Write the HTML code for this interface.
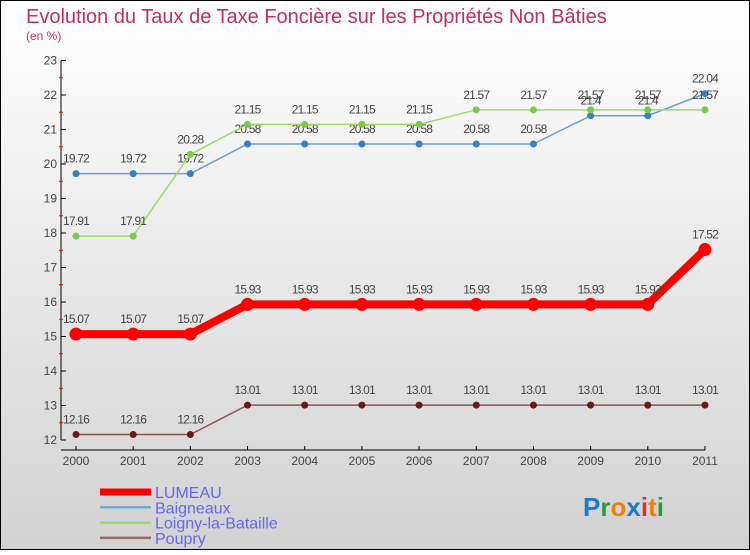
<!DOCTYPE html>
<html><head><meta charset="utf-8"><style>
body{margin:0}
#c{width:750px;height:550px;position:relative;font-family:"Liberation Sans",sans-serif}
</style></head><body>
<div id="c">
<svg id="s" width="750" height="550" xmlns="http://www.w3.org/2000/svg">
<defs><linearGradient id="bg" x1="0" y1="0" x2="0" y2="1"><stop offset="0" stop-color="#ffffff"/><stop offset="1" stop-color="#d2d2d2"/></linearGradient></defs>
<rect x="0.5" y="0.5" width="749" height="549" fill="url(#bg)" stroke="#000"/>
<text x="26" y="23" font-size="20" fill="#c0305a">Evolution du Taux de Taxe Foncière sur les Propriétés Non Bâties</text>
<text x="26" y="40" font-size="12" fill="#c0305a">(en %)</text>
<g id="axes"></g><g id="series"></g><g id="legend"></g>
<g font-size="26" font-weight="bold">
<text x="583" y="516"><tspan fill="#1a7ad0">P</tspan><tspan fill="#2a9a3a">r</tspan><tspan fill="#f08000">o</tspan><tspan fill="#1a7ad0">x</tspan><tspan fill="#e03020">i</tspan><tspan fill="#f08000">t</tspan><tspan fill="#2a9a3a">i</tspan></text>
</g>
</svg></div>
<script>
const years=["2000","2001","2002","2003","2004","2005","2006","2007","2008","2009","2010","2011"];
const yTicks=[12,13,14,15,16,17,18,19,20,21,22,23];
const lumeau=[15.07,15.07,15.07,15.93,15.93,15.93,15.93,15.93,15.93,15.93,15.93,17.52];
const baigneaux=[19.72,19.72,19.72,20.58,20.58,20.58,20.58,20.58,20.58,21.4,21.4,22.04];
const loigny=[17.91,17.91,20.28,21.15,21.15,21.15,21.15,21.57,21.57,21.57,21.57,21.57];
const poupry=[12.16,12.16,12.16,13.01,13.01,13.01,13.01,13.01,13.01,13.01,13.01,13.01];
const NS="http://www.w3.org/2000/svg";
const xS=i=>76+i*57.18;
const yS=v=>440-(v-12)*34.5;
function mk(t,a,p){const e=document.createElementNS(NS,t);for(const k in a)e.setAttribute(k,a[k]);p.appendChild(e);return e;}
const ax=document.getElementById('axes');
let l=mk('line',{x1:61,y1:yS(23),x2:61,y2:yS(12),stroke:'#000'},ax);


l=mk('line',{x1:61,y1:450,x2:xS(11),y2:450,stroke:'#000'},ax);


yTicks.forEach(v=>{
 mk('line',{x1:61,y1:yS(v),x2:66,y2:yS(v),stroke:'#000'},ax);
 if(v<23)mk('line',{x1:59,y1:yS(v+0.5),x2:63,y2:yS(v+0.5),stroke:'#e00'},ax);
 const t=mk('text',{x:57,y:yS(v)+4,'font-size':12,fill:'#444','text-anchor':'end'},ax);
 t.textContent=v;
 
 
});
years.forEach((y,i)=>{
 mk('line',{x1:xS(i),y1:446,x2:xS(i),y2:450,stroke:'#000'},ax);
 const t=mk('text',{x:xS(i),y:465,'font-size':12,fill:'#444','text-anchor':'middle'},ax);
 t.textContent=y;
 
 
});
const sg=document.getElementById('series');
function draw(data,name,lc,mc,w,r){
 const g=mk('g',{},sg);
 
 
 mk('polyline',{points:data.map((v,i)=>xS(i)+','+yS(v)).join(' '),fill:'none',stroke:lc,'stroke-width':w},g);
 data.forEach((v,i)=>{
  const c=mk('circle',{cx:xS(i),cy:yS(v),r:r,fill:mc},g);
  
  
  const t=mk('text',{x:xS(i),y:yS(v)-11,'font-size':12,fill:'#444','text-anchor':'middle','letter-spacing':'-0.8'},g);
  t.textContent=v;
  
  
 });
}
draw(poupry,'poupry','#8b5555','#6b1a1a',1.5,3.5);
draw(lumeau,'lumeau','#ff0000','#ff0000',8,6.5);
draw(baigneaux,'baigneaux','#6a9fcc','#3a7fbf',1.5,3.5);
draw(loigny,'loigny','#99dd66','#77cc44',1.5,3.5);
const lg=document.getElementById('legend');
[["LUMEAU","#ff0000",7],["Baigneaux","#7aaace",2.5],["Loigny-la-Bataille","#99dd66",2.5],["Poupry","#9a6a6a",2.5]].forEach((e,i)=>{
 const y=492+i*15.3;
 const g=mk('g',{},lg);
 
 
 mk('line',{x1:100,y1:y,x2:151,y2:y,stroke:e[1],'stroke-width':e[2]},g);
 const t=mk('text',{x:155,y:y+6,'font-size':16,fill:'#6666ee'},g);
 t.textContent=e[0];
});
</script>
</body></html>
